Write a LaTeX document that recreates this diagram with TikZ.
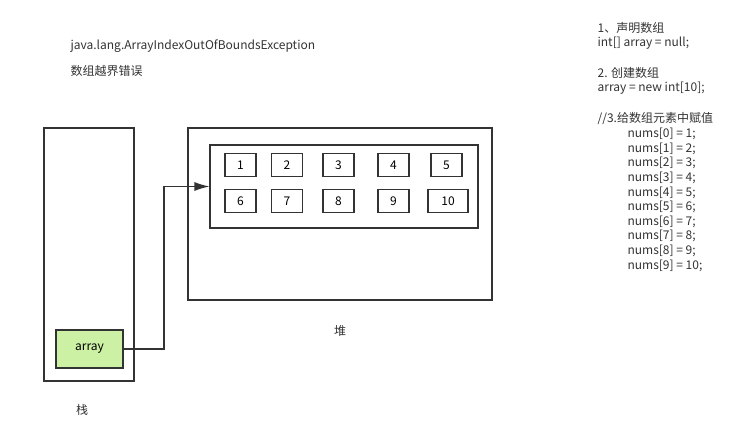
\documentclass[tikz,border=0pt]{standalone}
\usepackage{fontspec}
\setmainfont{Noto Sans CJK SC}
\usepackage{tikz}
\usetikzlibrary{arrows.meta}

\definecolor{ink}{HTML}{333333}
\definecolor{arrgreen}{HTML}{CCF0A4}

\begin{document}
\begin{tikzpicture}[x=1pt, y=-1pt, line width=1.2pt, draw=ink,
    font=\fontsize{12}{14}\selectfont,
    box/.style={draw=ink, inner sep=0pt},
    cell/.style={box, minimum width=31pt, minimum height=23pt},
    txt/.style={anchor=west, inner sep=0pt, text=ink}]
  \useasboundingbox[fill=white] (0,0) rectangle (739,438);

  % stack and heap
  \node[box, minimum width=90pt, minimum height=253pt] (stack) at (89,254.5) {};
  \node[box, fill=arrgreen, minimum width=67pt, minimum height=38pt] (arr) at (89.5,349) {array};
  \node[box, minimum width=304pt, minimum height=172pt] (heap) at (340,214) {};
  \node[box, minimum width=268pt, minimum height=83pt] (inner) at (344,186.5) {};

  % array cells
  \foreach \n/\x in {1/240.5, 2/287, 3/338.5, 4/393.5, 5/446.5}
    \node[cell] (c\n) at (\x,165) {\n};
  \foreach \n/\x in {6/240.5, 7/287, 8/338.5, 9/393.5}
    \node[cell] (c\n) at (\x,201) {\n};
  \node[cell, minimum width=40pt] (c10) at (448,201) {10};

  % reference
  \coordinate (bend) at (164,349);
  \draw[ink, -{Latex[length=15pt, width=9pt]}] (arr.east) -- (bend) |- (inner.west);

  \node[ink] (stacklbl) at (82,410) {栈};
  \node[ink] (heaplbl) at (340,331) {堆};

  % notes
  \node[txt] (exc) at (70,46) {java.lang.ArrayIndexOutOfBoundsException};
  \node[txt] (err) at (70,71) {数组越界错误};

  \node[txt] (s1) at (597,28) {1、声明数组};
  \node[txt] (s1a) at (597,43) {int[] array = null;};
  \node[txt] (s2) at (597,73) {2. 创建数组};
  \node[txt] (s2a) at (597,88) {array = new int[10];};
  \node[txt] (s3) at (597,119) {//3.给数组元素中赋值};
  \foreach \i in {0,...,9}
    \pgfmathtruncatemacro{\v}{\i+1}
    \node[txt] (n\i) at (627,134+14.6*\i) {nums[\i] = \v;};
\end{tikzpicture}
\end{document}
